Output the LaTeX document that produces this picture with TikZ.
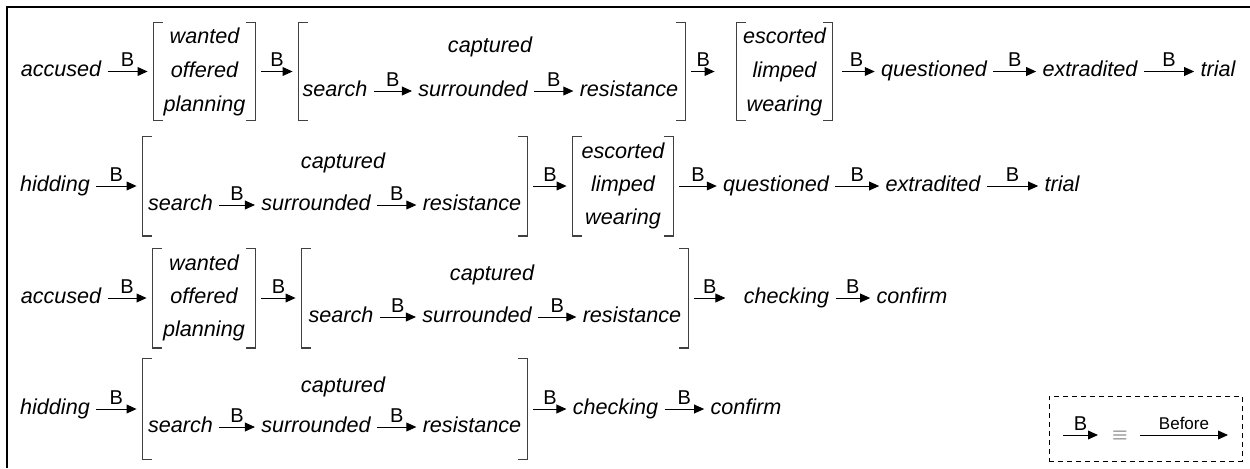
\documentclass[tikz,border=0pt]{standalone}
\usepackage{fontspec}
\setmainfont{Liberation Sans}
\usetikzlibrary{arrows.meta}

\tikzset{
  word/.style={anchor=mid, inner sep=0pt, font=\itshape\fontsize{10.8}{17}\selectfont},
  stack/.style={align=center, inner sep=0pt, font=\itshape\fontsize{10.8}{#1}\selectfont},
  stack/.default=17pt,
  brk/.style={inner sep=0pt},
  brkline/.style={draw=black!75, line width=0.6pt},
  bef/.style={-{Triangle[length=5pt,width=4.4pt]}, line width=0.5pt, shorten <=3pt, shorten >=3pt},
  blab/.style={above, inner sep=2.2pt, font=\fontsize{10}{11}\selectfont}
}

\newcommand\brackets[1]{%
  \draw[brkline] ([xshift=4.5pt]#1.north west) -- (#1.north west) -- (#1.south west) -- ++(4.5pt,0);
  \draw[brkline] ([xshift=-4.5pt]#1.north east) -- (#1.north east) -- (#1.south east) -- ++(-4.5pt,0);}

\begin{document}
\begin{tikzpicture}[x=0.5pt,y=-0.5pt]
\useasboundingbox (0,0) rectangle (1250,468);
\draw[line width=1pt] (7,468) -- (7,7) -- (1250,7);

% first chain
\node[word] (acc1) at (61,71.5) {accused};
\node[stack, minimum width=50.5pt, minimum height=48.5pt] (wop1) at (204.5,71.5) {wanted\\offered\\planning};
\node[brk, minimum width=193pt, minimum height=48.5pt] (sg1) at (492,71.5) {};
\node[word] (cap1) at (490,47) {captured};
\node[word] (sea1) at (335,91) {search};
\node[word] (sur1) at (473,91) {surrounded};
\node[word] (res1) at (629,91) {resistance};
\node[stack, minimum width=47.5pt, minimum height=48.5pt] (esc1) at (784.5,71.5) {escorted\\limped\\wearing};
\node[word] (que1) at (934,71.5) {questioned};
\node[word] (ext1) at (1090,71.5) {extradited};
\node[word] (tri1) at (1218,71.5) {trial};

\draw[bef] (acc1.mid east) -- node[blab] {B} (wop1.west);
\draw[bef] (wop1.east) -- node[blab] {B} (sg1.west);
\draw[bef] (sea1.mid east) -- node[blab] {B} (sur1.mid west);
\draw[bef] (sur1.mid east) -- node[blab] {B} (res1.mid west);
\draw[bef, shorten >=11pt] (sg1.east) -- node[blab, pos=0.35] {B} (esc1.west);
\draw[bef, shorten <=5pt] (esc1.east) -- node[blab] {B} (que1.mid west);
\draw[bef] (que1.mid east) -- node[blab] {B} (ext1.mid west);
\draw[bef] (ext1.mid east) -- node[blab] {B} (tri1.mid west);

% second chain
\node[word] (hid2) at (55,186) {hidding};
\node[brk, minimum width=192pt, minimum height=49.5pt] (sg2) at (335,186) {};
\node[word] (cap2) at (343,163) {captured};
\node[word] (sea2) at (180.5,205) {search};
\node[word] (sur2) at (316,205) {surrounded};
\node[word] (res2) at (472,205) {resistance};
\node[stack=16.5pt, minimum width=50pt, minimum height=49.5pt] (esc2) at (623,186) {escorted\\limped\\wearing};
\node[word] (que2) at (776,186) {questioned};
\node[word] (ext2) at (933,186) {extradited};
\node[word] (tri2) at (1062,186) {trial};

\draw[bef] (hid2.mid east) -- node[blab] {B} (sg2.west);
\draw[bef] (sea2.mid east) -- node[blab] {B} (sur2.mid west);
\draw[bef] (sur2.mid east) -- node[blab] {B} (res2.mid west);
\draw[bef] (sg2.east) -- node[blab] {B} (esc2.west);
\draw[bef] (esc2.east) -- node[blab] {B} (que2.mid west);
\draw[bef] (que2.mid east) -- node[blab] {B} (ext2.mid west);
\draw[bef] (ext2.mid east) -- node[blab] {B} (tri2.mid west);

% third chain
\node[word] (acc3) at (61,298) {accused};
\node[stack=16.5pt, minimum width=51pt, minimum height=49.5pt] (wop3) at (204,298) {wanted\\offered\\planning};
\node[brk, minimum width=193pt, minimum height=49.5pt] (sg3) at (495,298) {};
\node[word] (cap3) at (492,275) {captured};
\node[word] (sea3) at (341,317) {search};
\node[word] (sur3) at (477,317) {surrounded};
\node[word] (res3) at (632,317) {resistance};
\node[word] (chk3) at (786.5,298) {checking};
\node[word] (con3) at (912,298) {confirm};

\draw[bef] (acc3.mid east) -- node[blab] {B} (wop3.west);
\draw[bef] (wop3.east) -- node[blab] {B} (sg3.west);
\draw[bef] (sea3.mid east) -- node[blab] {B} (sur3.mid west);
\draw[bef] (sur3.mid east) -- node[blab] {B} (res3.mid west);
\draw[bef, shorten >=9pt] (sg3.east) -- node[blab, pos=0.39] {B} (chk3.mid west);
\draw[bef] (chk3.mid east) -- node[blab] {B} (con3.mid west);

% fourth chain
\node[word] (hid4) at (55,409) {hidding};
\node[brk, minimum width=192pt, minimum height=50pt] (sg4) at (335,409) {};
\node[word] (cap4) at (343,387) {captured};
\node[word] (sea4) at (180.5,427) {search};
\node[word] (sur4) at (316,427) {surrounded};
\node[word] (res4) at (472,427) {resistance};
\node[word] (chk4) at (615.5,409) {checking};
\node[word] (con4) at (746,409) {confirm};

\draw[bef] (hid4.mid east) -- node[blab] {B} (sg4.west);
\draw[bef] (sea4.mid east) -- node[blab] {B} (sur4.mid west);
\draw[bef] (sur4.mid east) -- node[blab] {B} (res4.mid west);
\draw[bef] (sg4.east) -- node[blab] {B} (chk4.mid west);
\draw[bef] (chk4.mid east) -- node[blab] {B} (con4.mid west);

\foreach \g in {wop1,sg1,esc1,sg2,esc2,wop3,sg3,sg4}
  {\brackets{\g}}

% key
\node[draw, dashed, dash pattern=on 2.5pt off 2pt, line width=0.5pt, inner sep=0pt,
      minimum width=96.5pt, minimum height=32.5pt] (key) at (1145.5,428.5) {};
\coordinate (kb1) at (1063,435);
\coordinate (kb2) at (1098,435);
\coordinate (kf1) at (1140,435);
\coordinate (kf2) at (1228,435);
\draw[bef, shorten <=0pt, shorten >=0pt] (kb1) -- node[blab] {B} (kb2);
\node[inner sep=0pt, text=black!70] (eq) at (1120,436) {$\equiv$};
\draw[bef, shorten <=0pt, shorten >=0pt] (kf1) -- node[blab, font=\fontsize{8.5}{10}\selectfont] {Before} (kf2);
\end{tikzpicture}
\end{document}
